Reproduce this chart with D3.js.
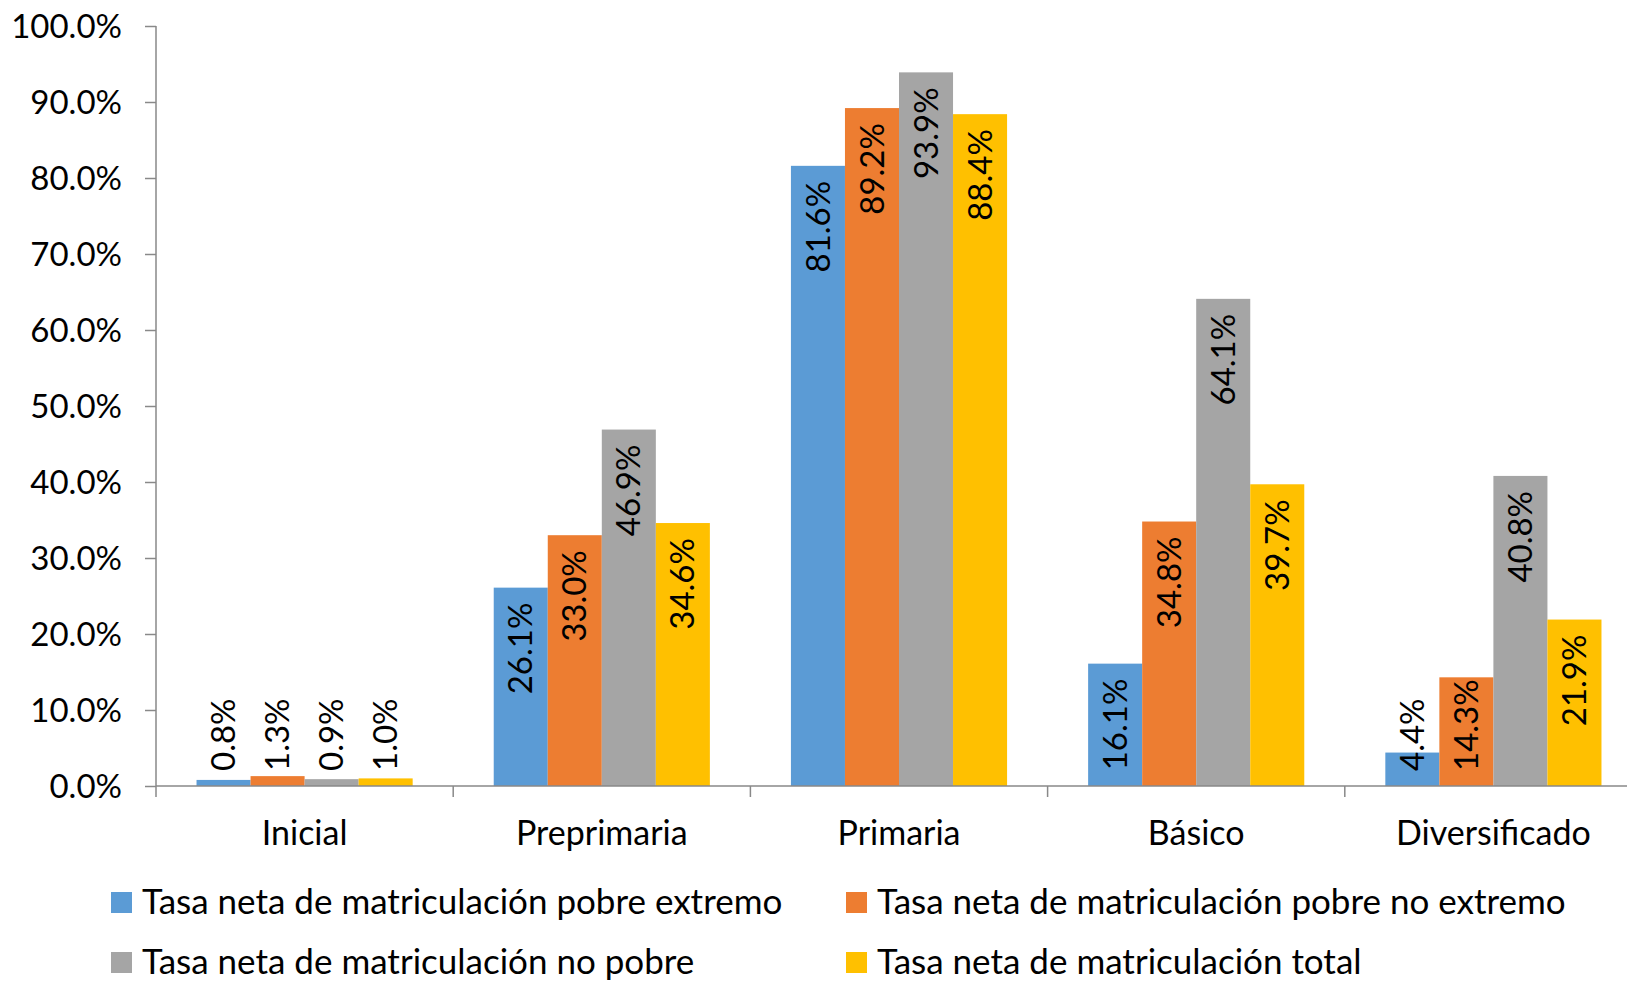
<!DOCTYPE html>
<html>
<head>
<meta charset="utf-8">
<script src="https://cdn.jsdelivr.net/npm/d3@7"></script>
<style>
  html, body { margin: 0; padding: 0; background: #fff; overflow: hidden; }
  svg text { font-family: Lato, "Open Sans", sans-serif; fill: #000; }
</style>
</head>
<body>
<div id="chart"></div>
<script>
// data
const categories = ["Inicial", "Preprimaria", "Primaria", "Básico", "Diversificado"];
const seriesNames = [
    "Tasa neta de matriculación pobre extremo",
    "Tasa neta de matriculación pobre no extremo",
    "Tasa neta de matriculación no pobre",
    "Tasa neta de matriculación total"
];
const pobreExtremo   = [0.8, 26.1, 81.6, 16.1, 4.4];
const pobreNoExtremo = [1.3, 33.0, 89.2, 34.8, 14.3];
const noPobre        = [0.9, 46.9, 93.9, 64.1, 40.8];
const total          = [1.0, 34.6, 88.4, 39.7, 21.9];
const yTicks = [0, 10, 20, 30, 40, 50, 60, 70, 80, 90, 100];

const colors = ["#5B9BD5", "#ED7D31", "#A5A5A5", "#FFC000"];
const seriesValues = [pobreExtremo, pobreNoExtremo, noPobre, total];

const width = 1627, height = 981;
const margin = { left: 156, top: 26, bottom: 195 };
const plotRight = 1642; // last category runs past the window edge
const plotBottom = height - margin.bottom;

const svg = d3.select("#chart").append("svg")
    .attr("width", width)
    .attr("height", height);

const x = d3.scaleBand()
    .domain(categories)
    .range([margin.left, plotRight]);

const xInner = d3.scaleBand()
    .domain(d3.range(seriesValues.length))
    .range([0, x.bandwidth()])
    .paddingOuter(0.75)
    .paddingInner(0);

const y = d3.scaleLinear()
    .domain([0, 100])
    .range([plotBottom, margin.top]);

const axisColor = "#898989";
const fontSize = 33;

// y axis
const yAxis = svg.append("g")
    .attr("transform", `translate(${margin.left},0)`)
    .call(d3.axisLeft(y).tickValues(yTicks).tickSize(11).tickSizeOuter(0)
        .tickFormat(d => d.toFixed(1) + "%"));
yAxis.select(".domain").remove();
yAxis.selectAll(".tick line").attr("stroke", axisColor).attr("stroke-width", 1.5);
yAxis.selectAll(".tick text")
    .attr("x", -34)
    .attr("dy", "0.36em")
    .style("font-size", fontSize + "px");
svg.append("line")
    .attr("x1", margin.left).attr("x2", margin.left)
    .attr("y1", margin.top).attr("y2", plotBottom + 11)
    .attr("stroke", axisColor).attr("stroke-width", 1.5);

// bars
const groups = svg.append("g").selectAll("g")
    .data(categories)
    .join("g")
    .attr("transform", d => `translate(${x(d)},0)`);

const bars = groups.selectAll("g")
    .data((c, ci) => seriesValues.map((vals, si) => ({ si, v: vals[ci] })))
    .join("g");

bars.append("rect")
    .attr("x", d => xInner(d.si))
    .attr("y", d => y(d.v))
    .attr("width", xInner.bandwidth())
    .attr("height", d => y(0) - y(d.v))
    .attr("fill", d => colors[d.si]);

// data labels, rotated, inside end; pushed up from the base when the bar is short
const padIn = 15, padBase = 15;
bars.append("text")
    .style("font-size", fontSize + "px")
    .text(d => d.v.toFixed(1) + "%")
    .each(function (d) {
        const len = this.getComputedTextLength();
        const cx = xInner(d.si) + xInner.bandwidth() / 2;
        const ty = Math.min(y(d.v) + padIn + len, y(0) - padBase);
        d3.select(this)
            .attr("text-anchor", "start")
            .attr("dy", "0.35em")
            .attr("transform", `translate(${cx},${ty}) rotate(-90)`);
    });

// x axis
svg.append("line")
    .attr("x1", margin.left).attr("x2", width)
    .attr("y1", y(0)).attr("y2", y(0))
    .attr("stroke", axisColor).attr("stroke-width", 1.5);
svg.append("g").selectAll("line")
    .data(categories.slice(1))
    .join("line")
    .attr("x1", d => x(d)).attr("x2", d => x(d))
    .attr("y1", y(0)).attr("y2", y(0) + 11)
    .attr("stroke", axisColor).attr("stroke-width", 1.5);
svg.append("g").selectAll("text")
    .data(categories)
    .join("text")
    .attr("x", d => x(d) + x.bandwidth() / 2)
    .attr("y", plotBottom + 59)
    .attr("text-anchor", "middle")
    .style("font-size", "34px")
    .text(d => d);

// legend
const legendPos = [
    { x: 111, y: 892 }, { x: 846, y: 892 },
    { x: 111, y: 952 }, { x: 846, y: 952 }
];
const legend = svg.append("g").selectAll("g")
    .data(seriesNames)
    .join("g")
    .attr("transform", (d, i) => `translate(${legendPos[i].x},${legendPos[i].y})`);
legend.append("rect")
    .attr("width", 21).attr("height", 21)
    .attr("fill", (d, i) => colors[i]);
legend.append("text")
    .attr("x", 31)
    .attr("y", 22)
    .style("font-size", "35px")
    .text(d => d);
</script>
</body>
</html>
